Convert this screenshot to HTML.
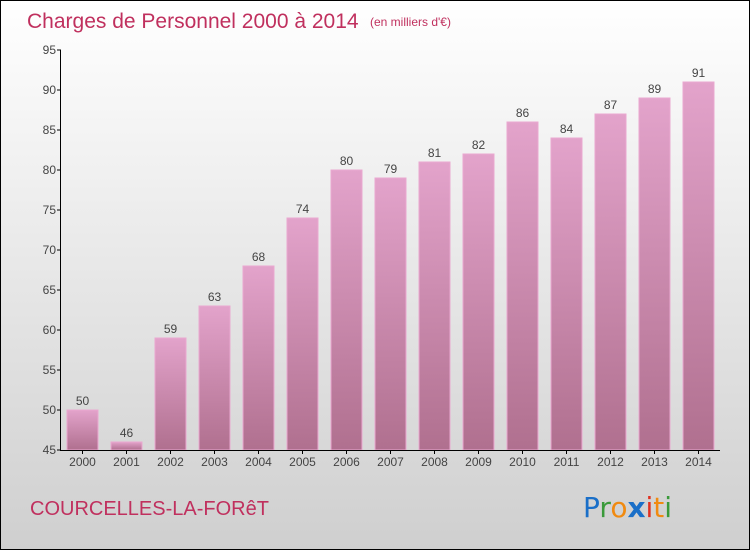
<!DOCTYPE html>
<html><head><meta charset="utf-8"><style>
body{margin:0;width:750px;height:550px;overflow:hidden;font-family:"Liberation Sans",sans-serif}
</style></head><body>
<svg width="750" height="550" xmlns="http://www.w3.org/2000/svg">
<defs>
<linearGradient id="bg" x1="0" y1="0" x2="0" y2="1"><stop offset="0" stop-color="#ffffff"/><stop offset="1" stop-color="#cfcfcf"/></linearGradient>
<linearGradient id="bar" x1="0" y1="0" x2="0" y2="1"><stop offset="0" stop-color="#e3a3cb"/><stop offset="1" stop-color="#b0708f"/></linearGradient>
</defs>
<rect x="0.5" y="0.5" width="749" height="549" fill="url(#bg)" stroke="#000"/>
<text x="27" y="28" font-size="21" fill="#c0305e">Charges de Personnel 2000 à 2014</text>
<text x="370" y="26" font-size="12" fill="#c0305e">(en milliers d'€)</text>
<g id="plot"></g>
<text x="30" y="515" font-size="20" fill="#c0305e">COURCELLES-LA-FORêT</text>
<g font-size="28" font-family="'DejaVu Sans',sans-serif">
<text x="583" y="517"><tspan fill="#1a6fc8">P</tspan><tspan fill="#3a9a3a">r</tspan><tspan fill="#f08a10">o</tspan><tspan fill="#1a6fc8" font-weight="bold">x</tspan><tspan fill="#e03020">i</tspan><tspan fill="#f08a10">t</tspan><tspan fill="#3a9a3a">i</tspan></text>
</g>
</svg>
<script>
const years=["2000","2001","2002","2003","2004","2005","2006","2007","2008","2009","2010","2011","2012","2013","2014"];
const values=[50,46,59,63,68,74,80,79,81,82,86,84,87,89,91];
const yTicks=[45,50,55,60,65,70,75,80,85,90,95];
const NS="http://www.w3.org/2000/svg";
const g=document.getElementById('plot');
const y=v=>450-(v-45)*8;
const x=i=>82.5+i*44;
function mk(t,a,txt){const e=document.createElementNS(NS,t);for(const k in a)e.setAttribute(k,a[k]);if(txt!==undefined)e.textContent=txt;g.appendChild(e);return e;}
values.forEach((v,i)=>{
 const r=mk('rect',{x:x(i)-15.5,y:y(v),width:31,height:450-y(v),fill:'url(#bar)',stroke:'#eaa8d0','stroke-width':1});
 
 
 const t=mk('text',{x:x(i),y:y(v)-5,'text-anchor':'middle','font-size':12,fill:'#444'},v);
 
 
 const l=mk('text',{x:x(i),y:466,'text-anchor':'middle','font-size':12,fill:'#444'},years[i]);
 
 
 mk('line',{x1:x(i),x2:x(i),y1:450,y2:454,stroke:'#000'});
});
yTicks.forEach(v=>{
 mk('line',{x1:57,x2:61,y1:y(v),y2:y(v),stroke:'#000'});
 const t=mk('text',{x:56,y:y(v)+4,'text-anchor':'end','font-size':12,fill:'#444'},v);
 
 
});
const ya=mk('line',{x1:60.5,x2:60.5,y1:50,y2:450,stroke:'#000'});


const xa=mk('line',{x1:60,x2:720,y1:450.5,y2:450.5,stroke:'#000'});


</script>
</body></html>
